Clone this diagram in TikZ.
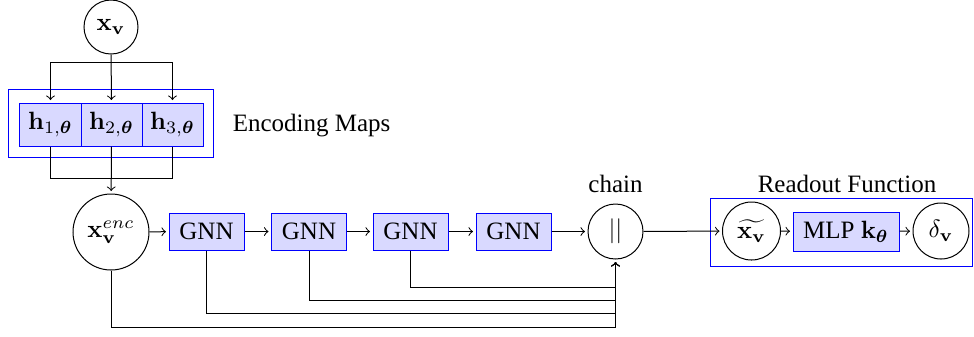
\documentclass[tikz,border=0pt]{standalone}
\usepackage{amsmath}
\usepackage[no-math]{fontspec}
\setmainfont{Liberation Serif}
\usetikzlibrary{fit}

\begin{document}
\begin{tikzpicture}[x=0.4pt, y=-0.4pt, >=to,
  circ/.style={draw, circle, inner sep=0pt, minimum size=#1},
  hbox/.style={draw=blue, fill=blue!15, inner sep=0pt, minimum width=24.4pt, minimum height=17.2pt},
  gnnbox/.style={draw=blue, fill=blue!15, inner sep=0pt, minimum width=30pt, minimum height=14.8pt},
  groupbox/.style={rectangle, draw=blue, inner sep=0pt},
  arr/.style={->, shorten >=1pt}]
  \useasboundingbox (0,0) rectangle (974,336);

  % input and encoding maps
  \node[circ=21.6pt] (xv) at (111,27) {$\mathbf{x}_\mathbf{v}$};
  \node[groupbox, minimum width=81.6pt, minimum height=27.2pt] (enc) at (111,123) {};
  \node[hbox] (h1) at (50.5,124.5) {$\mathbf{h}_{1,\boldsymbol{\theta}}$};
  \node[hbox] (h2) at (111.5,124.5) {$\mathbf{h}_{2,\boldsymbol{\theta}}$};
  \node[hbox] (h3) at (172.5,124.5) {$\mathbf{h}_{3,\boldsymbol{\theta}}$};
  \node[anchor=west] (enclabel) at (224,126) {Encoding Maps};
  \coordinate (split) at (111,62);
  \coordinate (merge) at (111,178);

  % message passing
  \node[circ=30.4pt] (xenc) at (111,232) {$\mathbf{x}_\mathbf{v}^{enc}$};
  \node[gnnbox] (g1) at (206.5,231.5) {GNN};
  \node[gnnbox] (g2) at (309,231.5) {GNN};
  \node[gnnbox] (g3) at (410.5,231.5) {GNN};
  \node[gnnbox] (g4) at (513.5,231.5) {GNN};
  \node[circ=22pt] (chain) at (615.5,231.5) {$||$};
  \node[anchor=base] (chainlabel) at (615.5,192) {chain};

  % readout
  \node[groupbox, minimum width=104.8pt, minimum height=27.2pt] (ro) at (841,232) {};
  \node[anchor=base] (rolabel) at (847,192) {Readout Function};
  \node[circ=23.2pt] (xt) at (751.5,231) {$\widetilde{\mathbf{x}_\mathbf{v}}$};
  \node[draw=blue, fill=blue!15, inner sep=0pt, minimum width=42.4pt, minimum height=15.6pt] (mlp) at (846,231.5) {MLP $\mathbf{k}_{\boldsymbol{\theta}}$};
  \node[circ=22.4pt] (delta) at (941,231) {$\delta_\mathbf{v}$};

  % connectors of the encoding stage
  \draw[arr] (xv) -- (h2);
  \draw (h1.north |- split) -- (h3.north |- split);
  \draw[arr] (h1.north |- split) -- (h1.north);
  \draw[arr] (h3.north |- split) -- (h3.north);
  \draw (h1.south) -- (h1.south |- merge) -- (h3.south |- merge) -- (h3.south);
  \draw[arr] (h2) -- (xenc);

  % chain of GNN layers
  \draw[arr] (xenc) -- (g1);
  \draw[arr] (g1) -- (g2);
  \draw[arr] (g2) -- (g3);
  \draw[arr] (g3) -- (g4);
  \draw[arr] (g4) -- (chain);

  % skip connections into the concatenation
  \coordinate (fb3) at (615.5,287);
  \coordinate (fb2) at (615.5,300);
  \coordinate (fb1) at (615.5,313);
  \coordinate (fb0) at (615.5,327);
  \draw[arr] (g3.south) |- (fb3) -- (chain.south);
  \draw[arr] (g2.south) |- (fb2) -- (chain.south);
  \draw[arr] (g1.south) |- (fb1) -- (chain.south);
  \draw[arr] (xenc.south) |- (fb0) -- (chain.south);

  % readout connectors
  \draw[arr] (chain) -- (xt);
  \draw[arr] (xt) -- (mlp);
  \draw[arr] (mlp) -- (delta);
\end{tikzpicture}
\end{document}
